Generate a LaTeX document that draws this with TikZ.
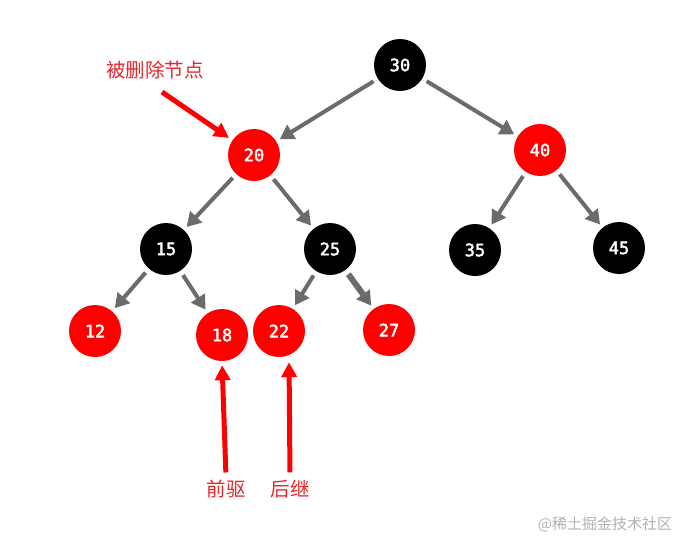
\documentclass[tikz,border=0pt]{standalone}
\usepackage{fontspec}
\newfontfamily\cjk{Noto Sans CJK SC}
\newfontfamily\monob{DejaVu Sans Mono}[FakeBold=2.5]
\usetikzlibrary{arrows.meta}
\definecolor{edgegray}{HTML}{6B6B6B}
\definecolor{notered}{HTML}{E8262A}
\tikzset{
    rbnode/.style={circle,minimum size=52pt,inner sep=0pt,text=white,font=\monob\fontsize{17}{17}\selectfont},
    rednode/.style={rbnode,fill=red},
    blacknode/.style={rbnode,fill=black},
    treeedge/.style={draw=edgegray,line width=4pt,-{Triangle[length=14pt,width=16pt]}},
    notearrow/.style={draw=red,line width=5pt,-{Triangle[length=15pt,width=15pt]}},
    notetext/.style={text=notered,font=\cjk\fontsize{19.5}{19.5}\selectfont}
}
\begin{document}
\begin{tikzpicture}[x=1pt,y=-1pt]
    \useasboundingbox[fill=white] (0,0) rectangle (680,549);
    % узлы дерева
    \node[blacknode] (n30) at (400,65) {30};
    \node[rednode]   (n20) at (254,155) {20};
    \node[rednode]   (n40) at (540,150) {40};
    \node[blacknode] (n15) at (166,249) {15};
    \node[blacknode] (n25) at (330,249) {25};
    \node[blacknode] (n35) at (475,250) {35};
    \node[blacknode] (n45) at (619,248) {45};
    \node[rednode]   (n12) at (95,331) {12};
    \node[rednode]   (n18) at (222,335) {18};
    \node[rednode]   (n22) at (279,331) {22};
    \node[rednode]   (n27) at (389,330) {27};
    % рёбра
    \foreach \a/\b in {30/20,30/40,20/15,20/25,40/35,40/45,15/12,15/18,25/22} {
        \draw[treeedge,shorten <=5pt,shorten >=4pt] (n\a) -- (n\b);
    }
    \draw[treeedge,line width=6pt,shorten <=5pt,shorten >=4pt] (n25) -- (n27);
    % подписи
    \node[notetext] (del) at (155,70) {被删除节点};
    \node[notetext] (pre) at (226,489) {前驱};
    \node[notetext] (suc) at (290,489) {后继};
    \coordinate (delstart) at (162,92);
    \draw[notearrow,shorten >=4pt] (delstart) -- (n20);
    \draw[notearrow,shorten <=4pt,shorten >=4pt] (pre.north) -- (n18.south);
    \draw[notearrow,shorten <=4pt,shorten >=5pt] (suc.north) -- ([xshift=10pt]n22.south);
    \node[text=black!30,font=\cjk\fontsize{15}{15}\selectfont] (mark) at (605,524) {@稀土掘金技术社区};
\end{tikzpicture}
\end{document}
